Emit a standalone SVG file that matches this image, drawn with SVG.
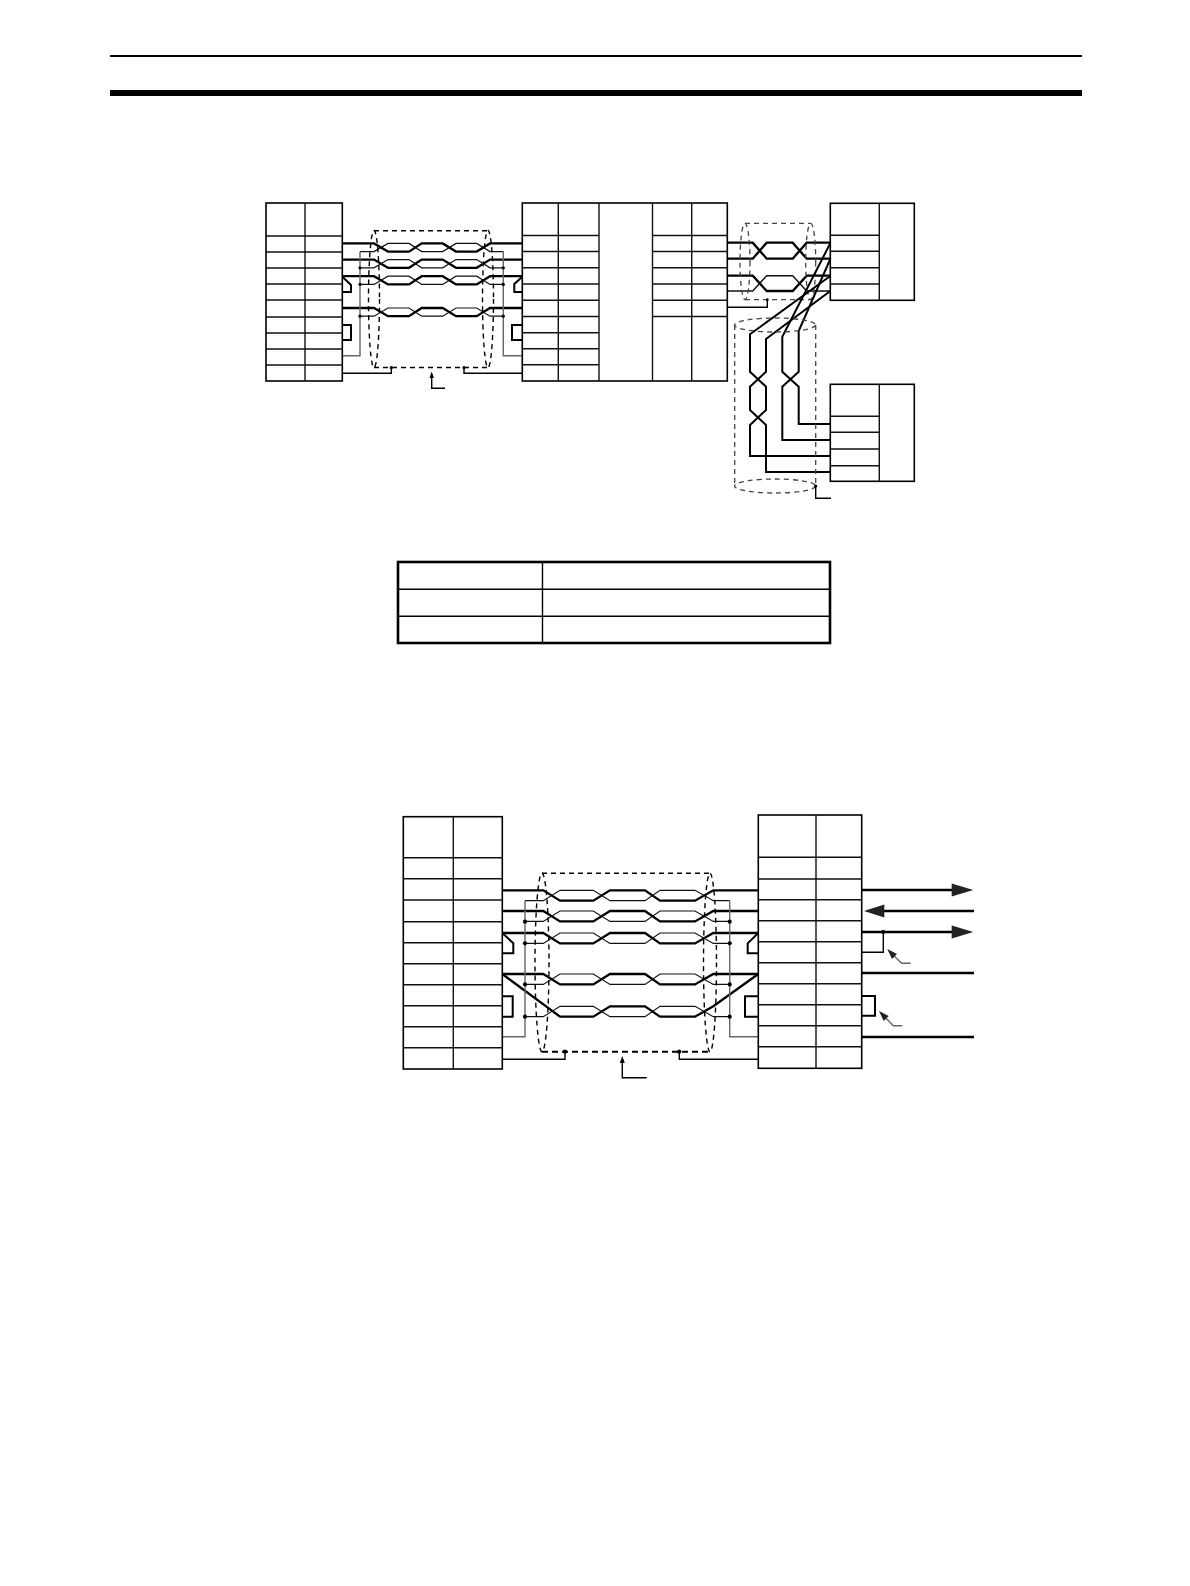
<svg xmlns="http://www.w3.org/2000/svg" width="1190" height="1586" viewBox="0 0 1190 1586">
<style>
.t{fill:#fff;stroke:#000;stroke-width:1.6}
.g{fill:none;stroke:#111;stroke-width:1.4}
.w{fill:none;stroke:#000;stroke-width:2.3;stroke-linejoin:miter}
.n{fill:none;stroke:#111;stroke-width:1.2}
.v{fill:none;stroke:#666;stroke-width:1.4}
.l{fill:none;stroke:#000;stroke-width:1.4}
.h{fill:none;stroke:#000;stroke-width:2}
.d{fill:none;stroke:#000;stroke-width:1.4;stroke-dasharray:5 4}
.db{fill:none;stroke:#000;stroke-width:2;stroke-dasharray:6 4}
.dg{fill:none;stroke:#444;stroke-width:1.3;stroke-dasharray:5 4}
</style>
<defs>
<g id="p1"><path class="w" d="M342.3 0H374L388 8.2H409L421.7 0H442.7L456 8.2H476.7L490 0H522"/><path class="n" d="M360 8.2H374L388 0H409L421.7 8.2H442.7L456 0H476.7L490 8.2H503.3"/></g>
<g id="p2"><path class="w" d="M502.3 0H543.3L560 10.4H593.3L610 0H645L660 10.4H695L713.3 0H758.3"/><path class="n" d="M525 10.4H543.3L560 0H593.3L610 10.4H645L660 0H695L713.3 10.4H729.7"/></g>
</defs>

<g id="page-rules">
<rect x="110" y="55" width="972" height="2" fill="#000"/>
<rect x="110" y="90" width="972" height="6" fill="#000"/>
</g>

<g id="connectors">
<g id="top-left-cable">
<use href="#p1" y="243.4"/><use href="#p1" y="259.6"/><use href="#p1" y="276.2"/><use href="#p1" y="308"/>
<path class="v" d="M360 251.6V355.7H342.3M503.3 251.6V355.7H522.3"/>
<path class="h" d="M342.3 276.7L351 285V292H342.3M522.3 276.7L514.3 284V292H522.3M342.3 325H351V340H342.3M522.3 325H512V340H522.3"/>
<path class="l" d="M342.3 373.3H391.3V367.7M522.3 373.3H464V367.7"/>
<path class="d" d="M374 230.7H488M374 367.5H488"/>
<ellipse class="d" cx="374" cy="299" rx="5.5" ry="68.5"/><ellipse class="d" cx="488" cy="299" rx="5.5" ry="68.5"/>
<g fill="#000"><circle cx="360" cy="267.8" r="1.6"/><circle cx="360" cy="284.4" r="1.6"/><circle cx="360" cy="316.2" r="1.6"/><circle cx="503.3" cy="267.8" r="1.6"/><circle cx="503.3" cy="284.4" r="1.6"/><circle cx="503.3" cy="316.2" r="1.6"/><circle cx="391.3" cy="367.7" r="1.6"/><circle cx="464" cy="367.7" r="1.6"/></g>
<path class="l" d="M445 388.3H431.7V377"/><path d="M431.7 371.5L429.5 378H433.9Z" fill="#000"/>
</g>
<g id="top-right-cable">
<path class="w" d="M727.3 242.7H752.7L766.7 258.7H792.7L806.7 242.7H830.3"/>
<path class="w" d="M727.3 258.7H752.7L766.7 242.7H792.7L806.7 258.7H830.3"/>
<path class="w" d="M727.3 275.7H752.7L766.7 291H792.7L806.7 275.7H830.3"/>
<path class="g" d="M727.3 291H752.7L766.7 275.7H792.7L806.7 291H830.3"/>
<path class="l" d="M727.3 307.3H767.3V299.7"/>
<path class="dg" d="M745 223.3H810.7M745 299.7H810.7"/>
<ellipse class="dg" cx="745" cy="261.5" rx="5" ry="38.2"/><ellipse class="dg" cx="810.7" cy="261.5" rx="5" ry="38.2"/>
<circle cx="767.3" cy="299.7" r="1.4" fill="#000"/>
<path class="h" d="M830.3 276L750 334.3V371.7L766 386.7V410L750 425V456H830.3"/>
<path class="h" d="M830.3 291L766 339V371.7L750 386.7V410L766 425V472H830.3"/>
<path class="h" d="M830.3 243.3L782.3 336.7V371.7L798.7 386.7V424H830.3"/>
<path class="h" d="M830.3 259L798.7 331V371.7L782.3 386.7V440H830.3"/>
<path class="dg" d="M734.7 325V486M815.7 325V486"/>
<ellipse class="dg" cx="775" cy="325" rx="40.5" ry="7"/><ellipse class="dg" cx="775" cy="486" rx="40.5" ry="7"/>
<circle cx="815.7" cy="486" r="1.6" fill="#000"/>
<path class="l" d="M815.7 486V498.3H831"/>
</g>
<g id="lower-cable">
<use href="#p2" y="890.3"/><use href="#p2" y="911"/><use href="#p2" y="933"/><use href="#p2" y="974"/>
<path class="w" d="M502.3 974L560 1016.7H593.3L610 1006.3H645L660 1016.7H695L713.3 1006.3L758.3 974"/>
<path class="n" d="M525 1016.7H543.3L560 1006.3H593.3L610 1016.7H645L660 1006.3H695L713.3 1016.7H729.7"/>
<path class="v" d="M525 900.7V1036.7H502.3M729.7 900.7V1036.7H758.3"/>
<path class="h" d="M502.3 933L513.3 943.3V953.3H502.3M758.3 933L747.7 943.3V953.3H758.3M502.3 996.3H512.7V1016.7H502.3M758.3 996.3H745V1016.7H758.3"/>
<path class="h" d="M861.7 996H875V1015.7H861.7"/>
<path class="l" d="M502.3 1059.3H565V1051.7M758.3 1059.3H679.3V1051.7"/>
<path class="d" d="M542 873.3H710"/><path class="db" d="M542 1051.7H710"/>
<ellipse class="d" cx="542" cy="962.5" rx="7" ry="89.2"/><ellipse class="d" cx="710" cy="962.5" rx="6.5" ry="89.2"/>
<g fill="#000"><circle cx="525" cy="921.7" r="2.1"/><circle cx="525" cy="943.3" r="2.1"/><circle cx="525" cy="984.4" r="2.1"/><circle cx="525" cy="1016.7" r="2.1"/><circle cx="729.7" cy="921.7" r="2.1"/><circle cx="729.7" cy="943.3" r="2.1"/><circle cx="729.7" cy="984.4" r="2.1"/><circle cx="729.7" cy="1016.7" r="2.1"/><circle cx="565" cy="1051.7" r="2.1"/><circle cx="679.3" cy="1051.7" r="2.1"/><circle cx="883.3" cy="932" r="2.1"/></g>
<path class="l" d="M646.7 1077.7H622.3V1062"/><path d="M622.3 1056L619.8 1063H624.8Z" fill="#000"/>
<path class="w" d="M861.7 890H955M884 911H974M861.7 932H955M861.7 973H974M861.7 1037H974"/>
<path d="M973.3 890L951.7 883.5V896.5Z" fill="#222"/>
<path d="M864 911L884.3 904.5V917.5Z" fill="#222"/>
<path d="M973.3 932L951.7 925.5V938.5Z" fill="#222"/>
<path class="l" d="M861.7 952.3H883.3V932"/>
<path class="v" d="M910.7 963.3H901.7L891 953"/><path d="M887.3 949L897 954L892 959Z" fill="#222"/>
<path class="v" d="M902.3 1025.7H893.3L883 1015"/><path d="M879 1011L888.7 1016L883.7 1021Z" fill="#222"/>
</g>
</g>

<g id="node-table-a">
<rect class="t" x="266" y="203" width="76.3" height="178"/>
<path class="g" d="M305 203V381M266 236H342.3M266 252H342.3M266 268H342.3M266 284H342.3M266 300H342.3M266 317H342.3M266 333H342.3M266 349H342.3M266 365H342.3"/>
</g>
<g id="node-table-b">
<rect class="t" x="522.3" y="203" width="205" height="178"/>
<path class="g" d="M558.3 203V381M599 203V381M652.5 203V381M691.7 203V381"/>
<path class="g" d="M522.3 235.5H599M522.3 251.5H599M522.3 267.7H599M522.3 284H599M522.3 300.3H599M522.3 316.5H599M522.3 332.7H599M522.3 348.7H599M522.3 364.7H599"/>
<path class="g" d="M652.5 235.5H727.3M652.5 251.5H727.3M652.5 267.7H727.3M652.5 284H727.3M652.5 300.3H727.3M652.5 316.5H727.3"/>
</g>
<g id="node-table-c">
<rect class="t" x="830.3" y="203.3" width="84" height="97"/>
<path class="g" d="M879.3 203.3V300.3M830.3 235.3H879.3M830.3 251.3H879.3M830.3 267.7H879.3M830.3 284H879.3"/>
</g>
<g id="node-table-d">
<rect class="t" x="830.3" y="384.3" width="84" height="97"/>
<path class="g" d="M879.3 384.3V481.3M830.3 416.3H879.3M830.3 432.3H879.3M830.3 449H879.3M830.3 465.7H879.3"/>
</g>
<g id="node-spec-table">
<rect x="398" y="562" width="432" height="81" fill="#fff" stroke="#000" stroke-width="2.6"/>
<path d="M542.5 562V643M398 589.3H830M398 616.3H830" fill="none" stroke="#000" stroke-width="1.4"/>
</g>
<g id="node-table-e">
<rect class="t" x="403.3" y="816.7" width="99" height="252.3"/>
<path class="g" d="M453.3 816.7V1069M403.3 857.7H502.3M403.3 878.7H502.3M403.3 900H502.3M403.3 921.7H502.3M403.3 942.7H502.3M403.3 963.7H502.3M403.3 984.7H502.3M403.3 1005.7H502.3M403.3 1026.7H502.3M403.3 1047.7H502.3"/>
</g>
<g id="node-table-f">
<rect class="t" x="758.3" y="815" width="103.4" height="253.3"/>
<path class="g" d="M816 815V1068.3M758.3 857.3H861.7M758.3 879H861.7M758.3 899.7H861.7M758.3 920.7H861.7M758.3 941.7H861.7M758.3 962.7H861.7M758.3 983.7H861.7M758.3 1004.7H861.7M758.3 1025.7H861.7M758.3 1046.7H861.7"/>
</g>
</svg>
